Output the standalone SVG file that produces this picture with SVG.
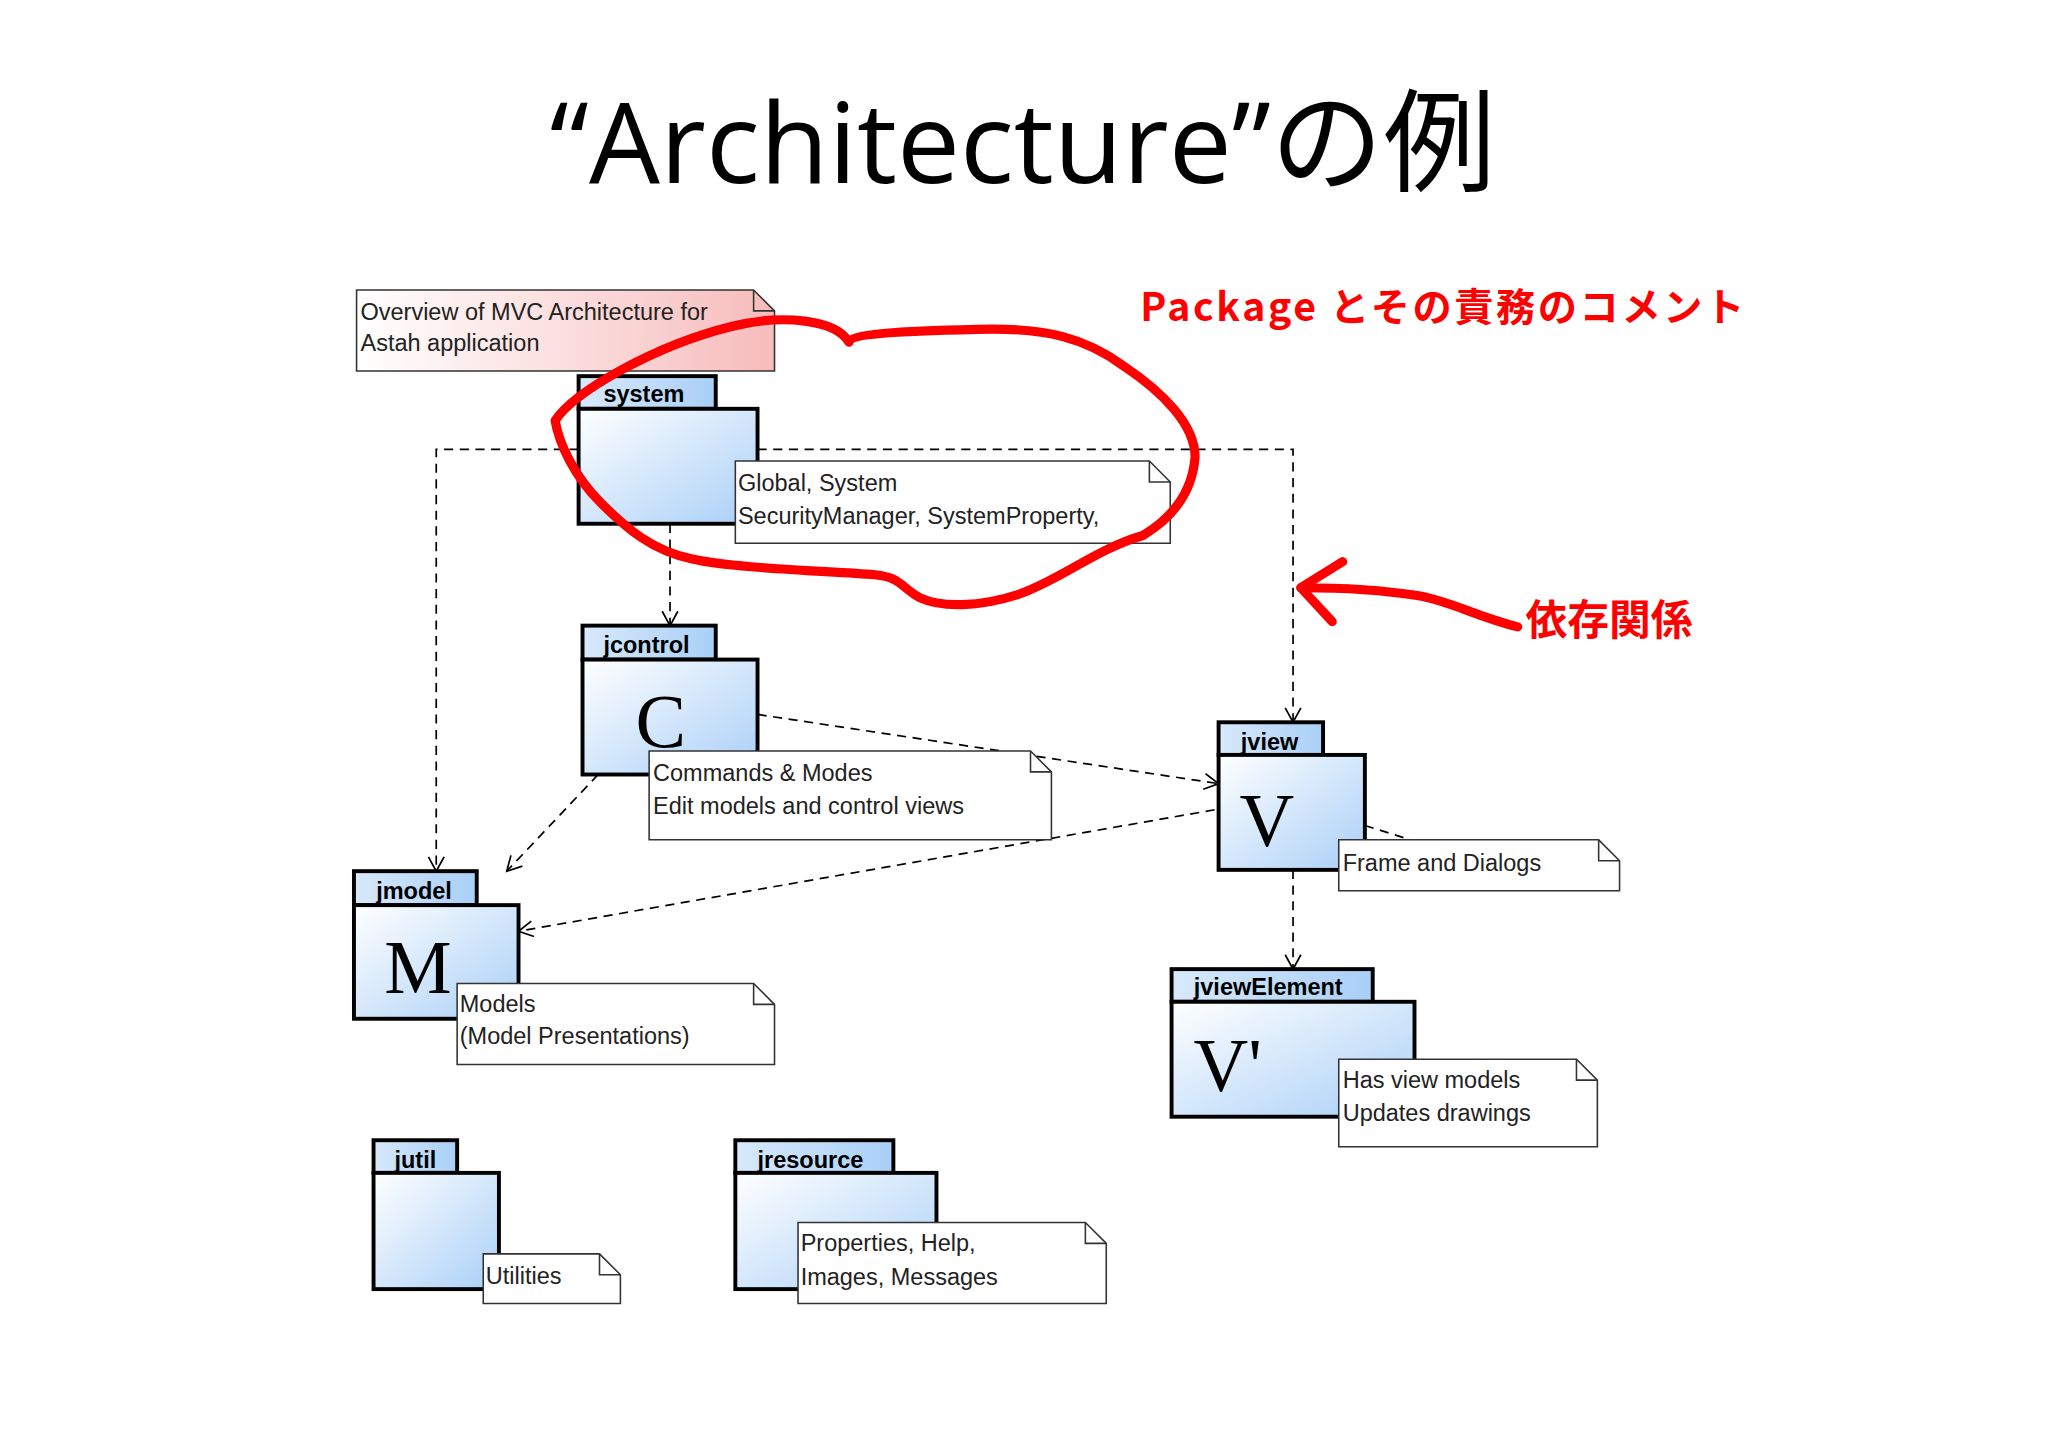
<svg xmlns="http://www.w3.org/2000/svg" width="2048" height="1448" viewBox="0 0 2048 1448">
<defs>
<linearGradient id="pk" x1="0" y1="0" x2="1" y2="1"><stop offset="0" stop-color="#ffffff"/><stop offset="1" stop-color="#a9cff7"/></linearGradient>
<linearGradient id="tab" x1="0" y1="0" x2="1" y2="0"><stop offset="0" stop-color="#d8e9fb"/><stop offset="1" stop-color="#a9cff7"/></linearGradient>
<linearGradient id="pink" x1="0" y1="0" x2="1" y2="0"><stop offset="0" stop-color="#ffffff"/><stop offset="1" stop-color="#f7bcbc"/></linearGradient>
<marker id="ar" markerWidth="14" markerHeight="14" refX="12" refY="7" orient="auto" markerUnits="userSpaceOnUse"><path d="M1,1 L12,7 L1,13" fill="none" stroke="#000" stroke-width="1.3"/></marker>
</defs>
<style>
.pb{fill:url(#pk);stroke:#000;stroke-width:3}
.pt{fill:url(#tab);stroke:#000;stroke-width:3}
.tl{font-family:"Liberation Sans",Arial,sans-serif;font-weight:bold;font-size:18px;fill:#000}
.nt{fill:#fff;stroke:#333;stroke-width:1.2}
.tx{font-family:"Liberation Sans",Arial,sans-serif;font-size:18px;fill:#222}
.big{font-family:"Liberation Serif","Times New Roman",serif;font-size:58px;fill:#000}
.dl{fill:none;stroke:#000;stroke-width:1.3;stroke-dasharray:7,5}
</style>
<rect width="2048" height="1448" fill="#fff"/>
<g transform="scale(1.3061)">
<text x="783" y="140" text-anchor="middle" font-family="'Open Sans','Noto Sans CJK JP',sans-serif" font-size="86" fill="#000">“Architecture”の例</text>

<g id="connectors">
<path class="dl" d="M443,344 H334 V667" marker-end="url(#ar)"/>
<path class="dl" d="M580,344 H990 V553" marker-end="url(#ar)"/>
<path class="dl" d="M513,401 V479" marker-end="url(#ar)"/>
<path class="dl" d="M580,547 L933,600" marker-end="url(#ar)"/>
<path class="dl" d="M458,593 L388,667" marker-end="url(#ar)"/>
<path class="dl" d="M930,620 L397,713" marker-end="url(#ar)"/>
<path class="dl" d="M990,666 V742" marker-end="url(#ar)"/>
<path class="dl" d="M1045,632 L1080,643"/>
</g>

<g id="overview"><path d="M273,222 H577 L593,238 V284 H273 Z" fill="url(#pink)" stroke="#333" stroke-width="1.2"/><path d="M577,222 V238 H593" fill="none" stroke="#333" stroke-width="1.2"/>
<text class="tx" x="276" y="245">Overview of MVC Architecture for</text><text class="tx" x="276" y="269">Astah application</text></g>

<g id="system"><rect class="pt" x="443" y="288" width="105" height="25"/><rect class="pb" x="443" y="313" width="137" height="88"/><text class="tl" x="462" y="308">system</text></g>
<g id="system-note"><path class="nt" d="M563,353 H880 L896,369 V416 H563 Z"/><path d="M880,353 V369 H896" fill="none" stroke="#333" stroke-width="1.2"/>
<text class="tx" x="565" y="376">Global, System</text><text class="tx" x="565" y="401">SecurityManager, SystemProperty,</text></g>

<g id="jcontrol"><rect class="pt" x="446" y="479" width="102" height="26"/><rect class="pb" x="446" y="505" width="134" height="88"/><text class="tl" x="462" y="500">jcontrol</text><text class="big" x="506" y="572" text-anchor="middle">C</text></g>
<g id="jcontrol-note"><path class="nt" d="M497,575 H789 L805,591 V643 H497 Z"/><path d="M789,575 V591 H805" fill="none" stroke="#333" stroke-width="1.2"/>
<text class="tx" x="500" y="598">Commands &amp; Modes</text><text class="tx" x="500" y="623">Edit models and control views</text></g>

<g id="jview"><rect class="pt" x="933" y="553" width="80" height="25"/><rect class="pb" x="933" y="578" width="112" height="88"/><text class="tl" x="950" y="574">jview</text><text class="big" x="970" y="648" text-anchor="middle">V</text></g>
<g id="jview-note"><path class="nt" d="M1025,643 H1224 L1240,659 V682 H1025 Z"/><path d="M1224,643 V659 H1240" fill="none" stroke="#333" stroke-width="1.2"/>
<text class="tx" x="1028" y="667">Frame and Dialogs</text></g>

<g id="jmodel"><rect class="pt" x="271" y="667" width="94" height="26"/><rect class="pb" x="271" y="693" width="126" height="87"/><text class="tl" x="288" y="688">jmodel</text><text class="big" x="320" y="760" text-anchor="middle">M</text></g>
<g id="jmodel-note"><path class="nt" d="M350,753 H577 L593,769 V815 H350 Z"/><path d="M577,753 V769 H593" fill="none" stroke="#333" stroke-width="1.2"/>
<text class="tx" x="352" y="775">Models</text><text class="tx" x="352" y="799">(Model Presentations)</text></g>

<g id="jviewElement"><rect class="pt" x="897" y="742" width="154" height="25"/><rect class="pb" x="897" y="767" width="186" height="88"/><text class="tl" x="914" y="762">jviewElement</text><text class="big" x="940" y="835" text-anchor="middle">V'</text></g>
<g id="jviewElement-note"><path class="nt" d="M1025,811 H1207 L1223,827 V878 H1025 Z"/><path d="M1207,811 V827 H1223" fill="none" stroke="#333" stroke-width="1.2"/>
<text class="tx" x="1028" y="833">Has view models</text><text class="tx" x="1028" y="858">Updates drawings</text></g>

<g id="jutil"><rect class="pt" x="286" y="873" width="64" height="25"/><rect class="pb" x="286" y="898" width="96" height="89"/><text class="tl" x="302" y="894">jutil</text></g>
<g id="jutil-note"><path class="nt" d="M370,960 H459 L475,976 V998 H370 Z"/><path d="M459,960 V976 H475" fill="none" stroke="#333" stroke-width="1.2"/>
<text class="tx" x="372" y="983">Utilities</text></g>

<g id="jresource"><rect class="pt" x="563" y="873" width="121" height="25"/><rect class="pb" x="563" y="898" width="154" height="89"/><text class="tl" x="580" y="894">jresource</text></g>
<g id="jresource-note"><path class="nt" d="M611,936 H831 L847,952 V998 H611 Z"/><path d="M831,936 V952 H847" fill="none" stroke="#333" stroke-width="1.2"/>
<text class="tx" x="613" y="958">Properties, Help,</text><text class="tx" x="613" y="984">Images, Messages</text></g>

<g id="annotations" fill="none" stroke="#f00" stroke-width="7" stroke-linecap="round" stroke-linejoin="round">
<path d="M650,262 C652,255 700,253 760,252 C800,252 830,258 860,280 C890,300 915,325 915,350 C913,375 900,395 875,410 C840,420 810,445 780,455 C750,465 720,465 705,458 C690,450 690,442 670,440 C630,437 560,435 530,428 C500,422 480,405 460,385 C440,365 428,340 425,322 C440,300 500,265 560,250 C600,240 640,245 650,262"/>
<path d="M1162,480 C1130,472 1110,460 1085,456 C1060,452 1030,450 996,450"/>
<path d="M1028,430 L996,450 L1020,476"/>
</g>
<text x="873" y="246" font-family="'Noto Sans CJK JP',sans-serif" font-weight="bold" font-size="30" fill="#f00" letter-spacing="2">Package とその責務のコメント</text>
<text x="1168" y="486" font-family="'Noto Sans CJK JP',sans-serif" font-weight="bold" font-size="32" fill="#f00">依存関係</text>
</g>
</svg>
